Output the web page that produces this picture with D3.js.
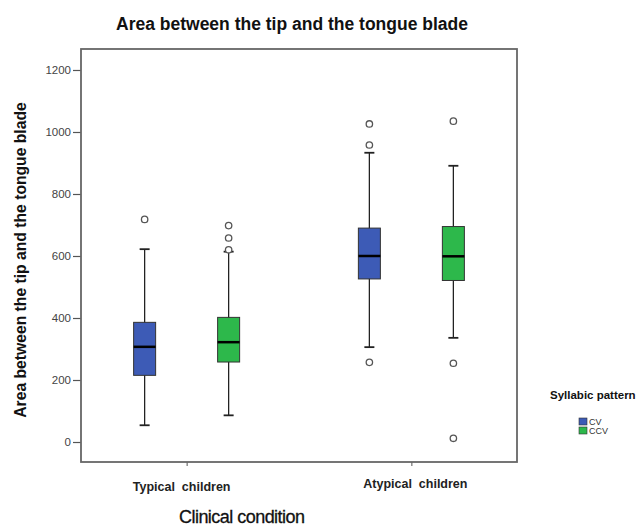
<!DOCTYPE html>
<html>
<head>
<meta charset="utf-8">
<script src="https://cdn.jsdelivr.net/npm/d3@7"></script>
<style>
  body { margin: 0; background: #fff; }
  text { font-family: Arial, "Liberation Sans", sans-serif; }
</style>
</head>
<body>
<div id="chart"></div>
<script>
// data
let categories = ["Typical  children", "Atypical  children"];
let series = ["CV", "CCV"];
let colors = ["#3d5bb6", "#2db84b"];
let yTicks = [0, 200, 400, 600, 800, 1000, 1200];

// [category][series]
let whiskerLow = [[54, 86], [306, 336]];
let q1 = [[215, 258], [526, 521]];
let medians = [[307, 322], [600, 599]];
let q3 = [[386, 402], [690, 695]];
let whiskerHigh = [[622, 614], [933, 891]];
let outliers = [[[718], [620, 658, 698]], [[257, 958, 1026], [12, 254, 1035]]];

let width = 644,
    height = 526;

let svg = d3.select("#chart").append("svg")
    .attr("width", width)
    .attr("height", height);

let plotLeft = 81, plotRight = 517, plotTop = 49, plotBottom = 462;

let y = d3.scaleLinear()
    .domain([-64.5, 1267.7])
    .range([plotBottom, plotTop]);

let x = d3.scalePoint()
    .domain(categories)
    .range([plotLeft, plotRight])
    .padding(0.47);

let xSub = d3.scalePoint()
    .domain(series)
    .range([-42, 42]);

let boxW = 22, capW = 10;

// build flat list of boxes
let boxes = [];
categories.forEach(function(c, i) {
    series.forEach(function(s, j) {
        boxes.push({
            cat: c, ser: s, color: colors[j],
            lo: whiskerLow[i][j], q1: q1[i][j], med: medians[i][j],
            q3: q3[i][j], hi: whiskerHigh[i][j], out: outliers[i][j]
        });
    });
});

// y axis
let yAxis = svg.append("g")
    .attr("transform", "translate(" + plotLeft + ",0)")
    .call(d3.axisLeft(y).tickValues(yTicks).tickSize(8).tickPadding(2).tickFormat(d3.format("d")));
yAxis.select(".domain").remove();
yAxis.selectAll("line").attr("stroke", "#555").attr("stroke-width", 1.2);
yAxis.selectAll("text").attr("fill", "#444").style("font-size", "11.5px");

// x axis ticks
let xAxis = svg.append("g")
    .attr("transform", "translate(0," + plotBottom + ")")
    .call(d3.axisBottom(x).tickSize(4).tickFormat(""));
xAxis.select(".domain").remove();
xAxis.selectAll("line").attr("stroke", "#555");

// frame
svg.append("rect")
    .attr("x", plotLeft)
    .attr("y", plotTop)
    .attr("width", plotRight - plotLeft)
    .attr("height", plotBottom - plotTop)
    .attr("fill", "none")
    .attr("stroke", "#666")
    .attr("stroke-width", 1.8);

let g = svg.selectAll(".box").data(boxes).enter().append("g")
    .attr("class", "box")
    .attr("transform", d => "translate(" + (x(d.cat) + xSub(d.ser)) + ",0)");

// whiskers
g.append("line")
    .attr("x1", 0).attr("x2", 0)
    .attr("y1", d => y(d.hi)).attr("y2", d => y(d.lo))
    .attr("stroke", "#222").attr("stroke-width", 1.3);
g.append("line")
    .attr("x1", -capW / 2).attr("x2", capW / 2)
    .attr("y1", d => y(d.hi)).attr("y2", d => y(d.hi))
    .attr("stroke", "#222").attr("stroke-width", 1.8);
g.append("line")
    .attr("x1", -capW / 2).attr("x2", capW / 2)
    .attr("y1", d => y(d.lo)).attr("y2", d => y(d.lo))
    .attr("stroke", "#222").attr("stroke-width", 1.8);

// box
g.append("rect")
    .attr("x", -boxW / 2)
    .attr("width", boxW)
    .attr("y", d => y(d.q3))
    .attr("height", d => y(d.q1) - y(d.q3))
    .attr("fill", d => d.color)
    .attr("stroke", "#333")
    .attr("stroke-width", 1);

// median
g.append("line")
    .attr("x1", -boxW / 2).attr("x2", boxW / 2)
    .attr("y1", d => y(d.med)).attr("y2", d => y(d.med))
    .attr("stroke", "#000").attr("stroke-width", 2.5);

// outliers
g.selectAll(".out").data(d => d.out).enter().append("circle")
    .attr("class", "out")
    .attr("cx", 0)
    .attr("cy", d => y(d))
    .attr("r", 3.2)
    .attr("fill", "#fff")
    .attr("stroke", "#555")
    .attr("stroke-width", 1.3);

// category labels
svg.selectAll(".catlab").data(categories).enter().append("text")
    .attr("class", "catlab")
    .attr("x", (d, i) => x(d) + (i === 0 ? -5 : 4))
    .attr("y", (d, i) => i === 0 ? 491 : 488)
    .attr("text-anchor", "middle")
    .attr("font-weight", "bold")
    .attr("fill", "#222")
    .style("font-size", "12.5px")
    .style("white-space", "pre")
    .text(d => d);

// titles
svg.append("text")
    .attr("x", 292)
    .attr("y", 30)
    .attr("text-anchor", "middle")
    .attr("font-weight", "bold")
    .attr("fill", "#111")
    .style("font-size", "17.5px")
    .text("Area between the tip and the tongue blade");

svg.append("text")
    .attr("x", 242)
    .attr("y", 523)
    .attr("text-anchor", "middle")
    .attr("fill", "#111")
    .style("font-size", "18px")
    .attr("stroke", "#111")
    .attr("stroke-width", 0.3)
    .attr("textLength", 126)
    .text("Clinical condition");

svg.append("text")
    .attr("transform", "translate(26,260) rotate(-90)")
    .attr("text-anchor", "middle")
    .attr("font-weight", "bold")
    .attr("fill", "#111")
    .style("font-size", "15.7px")
    .text("Area between the tip and the tongue blade");

// legend
svg.append("text")
    .attr("x", 550)
    .attr("y", 399)
    .attr("font-weight", "bold")
    .attr("fill", "#111")
    .style("font-size", "11.5px")
    .text("Syllabic pattern");

let leg = svg.selectAll(".leg").data(series).enter().append("g")
    .attr("class", "leg")
    .attr("transform", (d, i) => "translate(579," + (418 + i * 9) + ")");
leg.append("rect")
    .attr("width", 8).attr("height", 7)
    .attr("fill", (d, i) => colors[i])
    .attr("stroke", "#333").attr("stroke-width", 0.6);
leg.append("text")
    .attr("x", 10).attr("y", 7)
    .attr("fill", "#333")
    .style("font-size", "9px")
    .text(d => d);
</script>
</body>
</html>
